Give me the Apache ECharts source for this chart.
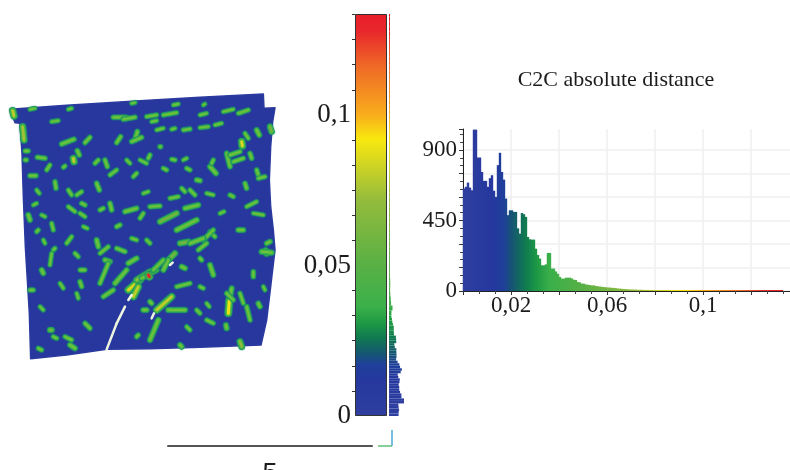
<!DOCTYPE html>
<html><head><meta charset="utf-8">
<style>html,body{margin:0;padding:0;background:#fff}#c{width:790px;height:470px;filter:blur(0.55px)}</style>
<script src="https://cdn.jsdelivr.net/npm/echarts@6/dist/echarts.min.js"></script>
</head><body><div id="c"></div>
<script>
const titleText = 'C2C absolute distance';
const binWidth = 0.000833;
const counts = [654,665,692,660,643,1030,1030,852,852,760,703,703,665,720,739,640,600,803,882,760,711,590,484,515,515,505,505,400,366,498,490,473,345,330,328,328,270,230,207,164,164,170,243,243,143,143,125,110,90,79,79,85,85,85,80,72,70,57,55,47,47,
42,40,38,35,36,32,30,28,27,25,24,22,
22,20,20,18,16,15,14,13,12,11,10,10,
9,9,8,8,8,7,7,7,6,6,6,6,
5,5,5,6,5,4,4,5,4,4,4,3,
4,3,3,3,3,4,3,3,2,3,2,2,
2,2,3,2,2,2,1,2,2,1,2,1,
1,1,2,1,1,1,1,1,0,1,1,1,
1,0,1,1,0,1,0,0,1,0,0,1,0,0,0];
const histXLabels = ['0,02','0,06','0,1'];
const histYLabels = [0,450,900];
const barLabels = ['0','0,05','0,1'];
const scaleValues = [0.1335,0.128,0.116,0.1,0.092,0.085,0.072,0.05,0.036,0.031,0.026,0.021,0.017,0.012,0];
const scaleColors = ['#e81f2a','#e8262c','#ef6a26','#f9ad1c','#f8e80e','#d8d820','#95bc3c','#58b045','#3ab04a','#1f9a45','#0f7a50','#15586f','#1f3f9a','#26389f','#2f3f9f'];
const cloudOutline = [[30,88],[200,76],[420,62],[600,52],[790,42],[792,85],[825,83],[818,125],[812,200],[808,300],[812,380],[820,450],[825,510],[812,620],[800,720],[783,795],[600,802],[450,806],[320,808],[200,825],[92,836],[88,700],[82,600],[76,500],[70,350],[66,220],[60,130],[45,128]];
const tears = [[375,680,350,730],[350,730,320,808],[455,715,462,700],[385,660,395,645],[510,555,518,548]];
const patches = [
[405,180,412,155,.05],[395,185,425,172,.04],[350,188,362,170,.04],[255,188,270,172,.04],[185,192,222,178,.045],[75,213,85,213,.035],
[550,150,570,147,.035],[600,143,625,140,.03],[645,135,665,130,.03],[470,150,490,145,.03],[515,148,525,145,.03],[770,150,778,165,.05],[745,175,735,160,.035],
[810,140,815,155,.06],[68,140,72,180,.075],[38,92,42,108,.08],[725,185,727,198,.085],[480,200,482,200,.04],
[90,88,105,85,.03],[205,88,215,85,.03],[340,112,380,112,.04],[370,118,405,112,.04],[155,125,175,122,.03],[440,110,470,105,.035],[490,105,530,98,.035],[600,105,620,100,.03],[670,95,700,88,.03],[715,100,745,90,.035],[520,75,535,72,.028],[395,70,405,68,.028],[455,125,470,122,.03],[610,75,615,72,.028],
[220,235,222,245,.08],[232,212,238,225,.045],[112,232,135,235,.04],[75,240,80,240,.035],[90,287,108,287,.04],[165,305,168,325,.04],
[285,250,295,240,.035],[315,240,322,260,.04],[190,262,195,258,.035],[140,270,150,255,.035],[445,235,450,225,.04],[515,238,525,240,.035],[590,300,600,302,.045],[630,260,648,280,.05],[560,265,570,270,.035],[680,220,690,260,.045],[690,225,720,215,.04],[700,245,730,235,.04],[750,220,755,235,.04],[770,270,775,285,.04],[735,310,740,325,.04],[775,295,795,290,.035],[640,240,635,250,.035],[490,265,500,270,.035],
[420,240,440,250,.03],[330,285,350,270,.035],[400,290,410,280,.035],[290,310,298,330,.045],[205,330,215,345,.035],
[230,345,245,335,.035],[245,370,255,375,.04],[330,370,335,390,.045],[375,395,410,385,.045],[450,380,480,378,.04],[555,385,595,375,.05],[480,425,530,400,.06],[545,325,555,335,.035],[510,355,535,350,.035],[570,330,585,345,.035],[350,440,360,435,.04],[420,415,430,400,.035],[300,390,310,385,.035],[205,380,225,395,.035],[100,375,110,370,.03],[85,405,90,420,.05],[125,405,135,410,.03],[155,430,160,450,.035],[240,400,255,410,.035],[740,380,770,365,.03],[760,400,790,405,.03],
[530,450,590,420,.055],[715,450,730,450,.05],[630,455,645,470,.035],[610,480,640,450,.04],[540,490,565,485,.06],[570,490,610,475,.05],[595,510,620,490,.04],[290,480,295,500,.05],[350,505,375,515,.04],[300,520,325,500,.035],[200,490,215,470,.035],[110,455,115,450,.035],[160,510,165,505,.035],[225,520,235,530,.035],[797,512,800,520,.075],[785,515,815,518,.055],[810,485,800,490,.045],[440,480,450,490,.035],[395,475,410,480,.035],
[500,545,525,520,.06],[490,570,505,540,.05],[545,560,555,565,.05],[600,535,605,540,.04],[630,555,640,585,.05],[315,540,330,545,.05],[300,610,325,550,.04],[385,550,410,535,.05],[345,610,380,570,.05],[125,570,130,580,.05],[90,630,100,630,.04],[240,605,245,620,.04],[240,570,255,570,.035],[150,555,155,520,.03],[530,620,570,610,.035],
[385,630,420,600,.085],[400,650,415,620,.08],[410,600,450,575,.07],[425,595,470,570,.05],[460,570,490,540,.045],[445,585,448,590,.13],
[470,690,515,650,.08],[505,690,555,690,.055],[430,690,440,690,.05],[450,665,455,670,.045],[685,700,688,660,.09],[690,650,695,625,.05],[680,640,700,660,.04],[680,745,678,735,.05],[740,680,750,720,.04],[775,670,780,680,.045],[720,640,730,670,.035],[600,620,610,625,.035],[310,650,340,630,.04],[255,730,270,745,.04],[150,750,155,750,.06],
[450,780,475,720,.055],[410,770,415,765,.04],[195,770,215,780,.035],[160,770,170,775,.035],[210,795,225,805,.05],[115,805,125,810,.035],[725,800,720,785,.07],[540,795,545,800,.05],[620,720,640,730,.035],[560,740,570,750,.035],[760,575,760,590,.04],[590,690,600,700,.035],[660,400,672,395,.03],[130,480,135,490,.03],[250,440,262,445,.03],[430,340,445,335,.03],[620,340,640,345,.03],[690,345,700,350,.035],[180,610,190,625,.03],[120,680,130,690,.03],[230,640,235,655,.03],[550,240,560,235,.03],[380,240,390,250,.03],[110,330,118,340,.03],[620,670,628,680,.03],[790,620,795,630,.03]
];
const isComma = v => String(v).replace('.', ',');

function colorAt(d){
  for(let i=0;i<scaleValues.length-1;i++){
    const hi=scaleValues[i],lo=scaleValues[i+1];
    if(d<=hi&&d>=lo){
      const t=(d-lo)/(hi-lo);
      const a=parseInt(scaleColors[i+1].slice(1),16),b=parseInt(scaleColors[i].slice(1),16);
      const m=s=>Math.round(((a>>s)&255)*(1-t)+((b>>s)&255)*t);
      return `rgb(${m(16)},${m(8)},${m(0)})`;
    }
  }
  return scaleColors[0];
}
const binCenter = i => (i+0.5)*binWidth;
const gradientStops = scaleValues.map((v,i)=>({offset:1-v/scaleValues[0],color:scaleColors[i]}));
const serif='"Liberation Serif","Times New Roman",serif';
const ink='#1c1c1c';

const chart=echarts.init(document.getElementById('c'),null,{renderer:'canvas'});
chart.setOption({
  animation:false,backgroundColor:'#fff',
  title:{text:titleText,left:611,top:64,textAlign:'center',textStyle:{fontFamily:serif,fontSize:22,fontWeight:'normal',color:ink}},
  grid:[
    {left:0,top:80,width:290,height:290},
    {left:355,top:14,width:32,height:402},
    {left:389,top:14,width:15,height:402},
    {left:463,top:129,width:327,height:162},
    {left:168,top:445,width:204,height:1}
  ],
  xAxis:[
    {gridIndex:0,type:'value',min:0,max:870,show:false},
    {gridIndex:1,type:'category',data:[''],show:false},
    {gridIndex:2,type:'value',min:0,max:1030,show:false},
    {gridIndex:3,type:'value',min:0,max:0.13625,interval:0.02,
      axisLine:{onZero:false,lineStyle:{color:'#222'}},
      axisTick:{length:4,lineStyle:{color:'#333'}},
      minorTick:{show:true,splitNumber:3,length:3,lineStyle:{color:'#444'}},
      splitLine:{show:true,showMaxLine:false,lineStyle:{color:'#efefef',width:1.5}},
      axisLabel:{fontFamily:serif,fontSize:23,color:ink,margin:3,showMaxLabel:false,
        formatter:v=>{const s=isComma(+v.toFixed(2));return histXLabels.includes(s)?s:'';}}},
    {gridIndex:4,type:'value',min:0,max:5,interval:5,
      axisLine:{lineStyle:{color:'#555',width:2}},axisTick:{show:false},axisLabel:{show:false},
      name:'5',nameLocation:'middle',nameGap:16,nameTextStyle:{fontFamily:'"Liberation Sans",Arial,sans-serif',fontSize:27,color:ink}}
  ],
  yAxis:[
    {gridIndex:0,type:'value',min:0,max:870,inverse:true,show:false},
    {gridIndex:1,type:'value',min:0,max:0.1335,interval:0.05,
      axisLine:{show:false},axisTick:{length:3,lineStyle:{color:'#333'}},
      minorTick:{show:true,splitNumber:6,length:3,lineStyle:{color:'#333'}},splitLine:{show:false},
      axisLabel:{fontFamily:serif,fontSize:27,color:ink,margin:4,showMaxLabel:false,
        formatter:v=>{const s=isComma(+v.toFixed(3));return barLabels.includes(s)?s:'';}}},
    {gridIndex:2,type:'category',show:false,data:counts.map((c,i)=>binCenter(i))},
    {gridIndex:3,type:'value',min:0,max:1034,interval:150,
      axisLine:{show:true,lineStyle:{color:'#222'}},
      axisTick:{show:true,length:4,lineStyle:{color:'#333'}},
      minorTick:{show:true,splitNumber:3,length:3,lineStyle:{color:'#444'}},
      splitLine:{show:true,showMaxLine:false,lineStyle:{color:'#efefef',width:1.5}},
      axisLabel:{fontFamily:serif,fontSize:23,color:ink,margin:6,showMaxLabel:false,
        formatter:v=>histYLabels.includes(v)?String(v):''}},
    {gridIndex:4,type:'value',show:false}
  ],
  series:[
    {type:'custom',xAxisIndex:0,yAxisIndex:0,silent:true,clip:false,data:[0],
      renderItem:(p,api)=>({type:'polygon',shape:{points:cloudOutline.map(q=>api.coord(q))},style:{fill:'#28379e',stroke:'#2b3a9e',lineWidth:1.5,lineJoin:'round'}})},
    {type:'custom',xAxisIndex:0,yAxisIndex:0,silent:true,clip:false,data:patches,
      renderItem:(p,api)=>{
        const d=api.value(4),a=api.coord([api.value(0),api.value(1)]),b=api.coord([api.value(2),api.value(3)]);
        const w=1.6+Math.min(d,.09)*48;
        const line=(lw,col)=>({type:'line',shape:{x1:a[0],y1:a[1],x2:b[0],y2:b[1]},style:{stroke:col,lineWidth:lw,lineCap:'round',shadowBlur:1.5,shadowColor:col}});
        const core=d>=.06?colorAt(d):'#6fc23c';
        return {type:'group',children:[line(w+1.6,'#1a8f6c'),line(w,'#3ab54a'),line(w*.45,core)]};
      }},
    {type:'custom',xAxisIndex:0,yAxisIndex:0,silent:true,clip:false,data:tears,
      renderItem:(p,api)=>{
        const a=api.coord([api.value(0),api.value(1)]),b=api.coord([api.value(2),api.value(3)]);
        return {type:'line',shape:{x1:a[0],y1:a[1],x2:b[0],y2:b[1]},style:{stroke:'#eef5df',lineWidth:2.5,lineCap:'round'}};
      }},
    {type:'bar',xAxisIndex:1,yAxisIndex:1,barWidth:'100%',silent:true,data:[scaleValues[0]],
      itemStyle:{borderColor:'#333',borderWidth:1,color:new echarts.graphic.LinearGradient(0,0,0,1,gradientStops)}},
    {type:'bar',xAxisIndex:2,yAxisIndex:2,barCategoryGap:0,barMinHeight:1,silent:true,
      data:counts.map((c,i)=>({value:c,itemStyle:{color:colorAt(binCenter(i))}}))},
    {type:'bar',xAxisIndex:3,yAxisIndex:3,barWidth:2.4,barMinHeight:1,silent:true,
      data:counts.map((c,i)=>({value:[binCenter(i),c],itemStyle:{color:colorAt(binCenter(i))}}))}
  ],
  graphic:[
    {type:'line',shape:{x1:392,y1:430,x2:392,y2:446},style:{stroke:'#4aa6d8',lineWidth:1.5}},
    {type:'line',shape:{x1:378,y1:446,x2:392,y2:446},style:{stroke:'#5cc07a',lineWidth:1.5}}
  ]
});
</script></body></html>
